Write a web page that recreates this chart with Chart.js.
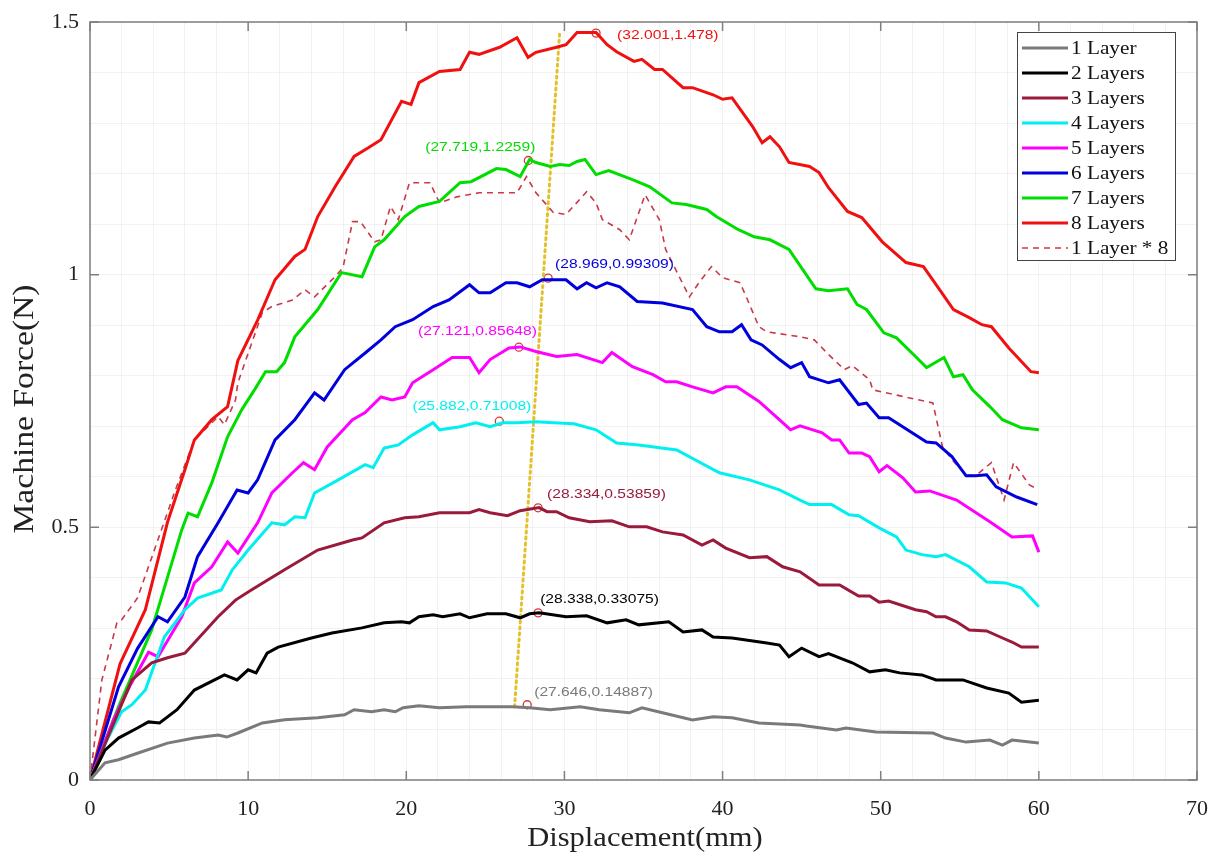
<!DOCTYPE html>
<html>
<head>
<meta charset="utf-8">
<script src="https://cdn.jsdelivr.net/npm/chart.js@4.4.1/dist/chart.umd.min.js"></script>
<style>
  body { margin: 0; background: #fff; }
  canvas { display: block; }
</style>
</head>
<body>
<canvas id="forceChart" width="1213" height="855"></canvas>
<script>
// displacement (mm), force (N) pairs
const layer1 = [[0,0],[0.95,0.034],[1.8,0.04],[3.0,0.053],[4.9,0.073],[6.6,0.083],[8.1,0.089],[8.65,0.085],[9.35,0.093],[10.9,0.113],[12.3,0.119],[14.4,0.123],[16.1,0.129],[16.7,0.139],[17.8,0.135],[18.6,0.139],[19.3,0.135],[19.8,0.143],[20.8,0.147],[22.1,0.143],[23.8,0.145],[26.7,0.145],[27.8,0.143],[29.1,0.139],[31.0,0.145],[32.2,0.139],[34.1,0.133],[34.9,0.143],[36.2,0.133],[38.1,0.119],[39.4,0.125],[40.6,0.123],[42.3,0.113],[44.9,0.109],[45.3,0.107],[47.2,0.099],[47.8,0.103],[49.7,0.095],[53.3,0.093],[54.1,0.083],[55.4,0.075],[56.9,0.079],[57.7,0.069],[58.3,0.079],[60.0,0.073]];
const layer2 = [[0,0],[0.95,0.059],[1.8,0.083],[3.0,0.103],[3.7,0.115],[4.4,0.113],[5.5,0.139],[6.6,0.178],[8.5,0.208],[9.3,0.198],[10.0,0.218],[10.5,0.212],[11.2,0.251],[11.9,0.263],[14.0,0.281],[15.3,0.291],[17.2,0.301],[18.6,0.311],[19.7,0.313],[20.2,0.311],[20.8,0.323],[21.7,0.327],[22.3,0.323],[23.4,0.329],[24.0,0.321],[25.1,0.329],[26.3,0.329],[27.2,0.321],[27.8,0.329],[28.4,0.331],[30.1,0.323],[31.4,0.325],[32.7,0.311],[33.9,0.317],[34.7,0.307],[36.6,0.313],[37.5,0.293],[38.7,0.297],[39.4,0.283],[40.6,0.281],[42.8,0.271],[43.6,0.267],[44.2,0.244],[45.0,0.261],[46.1,0.244],[46.7,0.25],[48.2,0.232],[49.3,0.214],[50.3,0.218],[51.2,0.212],[52.6,0.208],[53.5,0.198],[55.2,0.198],[56.7,0.182],[58.1,0.172],[58.9,0.154],[60.0,0.158]];
const layer3 = [[0,0],[1.2,0.09],[2.65,0.198],[3.9,0.232],[4.9,0.242],[6.0,0.251],[8.1,0.323],[9.2,0.356],[10.2,0.376],[12.3,0.416],[14.4,0.455],[16.6,0.475],[17.2,0.479],[18.6,0.509],[19.9,0.519],[20.8,0.521],[22.1,0.529],[24.0,0.529],[24.6,0.535],[25.3,0.529],[26.4,0.523],[27.2,0.533],[28.4,0.539],[28.9,0.531],[29.5,0.531],[30.3,0.519],[31.6,0.511],[33.0,0.513],[34.1,0.501],[35.2,0.501],[36.2,0.491],[37.5,0.485],[38.7,0.465],[39.4,0.475],[40.2,0.459],[41.7,0.44],[42.8,0.442],[43.8,0.422],[44.9,0.412],[46.1,0.386],[47.4,0.386],[48.6,0.364],[49.3,0.364],[49.9,0.352],[50.5,0.354],[52.2,0.337],[52.9,0.333],[53.5,0.323],[54.1,0.323],[54.8,0.313],[55.6,0.297],[56.7,0.295],[57.7,0.281],[58.3,0.273],[58.9,0.263],[60.0,0.263]];
const layer4 = [[0,0],[1.0,0.075],[2.0,0.135],[2.65,0.149],[3.5,0.178],[4.7,0.283],[6.0,0.337],[6.8,0.36],[8.3,0.376],[9.0,0.416],[10.0,0.455],[11.5,0.509],[12.3,0.505],[12.95,0.521],[13.6,0.519],[14.2,0.568],[15.7,0.594],[17.4,0.624],[17.9,0.618],[18.6,0.657],[19.5,0.663],[20.4,0.683],[21.7,0.707],[22.1,0.693],[23.4,0.699],[24.4,0.707],[25.3,0.699],[26.1,0.707],[27.0,0.707],[28.2,0.709],[29.3,0.707],[30.6,0.705],[32.0,0.693],[33.3,0.667],[34.7,0.663],[37.1,0.653],[39.8,0.608],[41.7,0.594],[43.6,0.574],[44.9,0.554],[45.5,0.545],[46.9,0.545],[48.0,0.525],[48.6,0.523],[49.9,0.499],[51.0,0.481],[51.6,0.455],[52.6,0.446],[53.5,0.442],[54.1,0.446],[55.6,0.422],[56.7,0.392],[57.9,0.39],[58.9,0.38],[60.0,0.343]];
const layer5 = [[0,0],[1.5,0.12],[2.5,0.185],[3.7,0.253],[4.3,0.244],[5.8,0.323],[6.6,0.39],[7.7,0.422],[8.7,0.471],[9.35,0.449],[10.6,0.509],[11.5,0.568],[12.8,0.608],[13.5,0.628],[14.2,0.614],[15.0,0.659],[16.6,0.713],[17.4,0.727],[18.4,0.758],[19.1,0.752],[19.9,0.758],[20.4,0.786],[21.7,0.812],[22.9,0.836],[24.0,0.836],[24.6,0.806],[25.3,0.832],[26.5,0.855],[27.2,0.857],[28.2,0.848],[29.5,0.838],[30.8,0.842],[32.4,0.826],[33.0,0.846],[34.3,0.818],[35.6,0.802],[36.4,0.788],[37.1,0.788],[38.1,0.778],[39.4,0.766],[40.2,0.778],[40.9,0.778],[42.3,0.749],[43.8,0.707],[44.3,0.693],[44.9,0.701],[46.3,0.687],[46.9,0.673],[47.4,0.673],[48.0,0.647],[48.8,0.647],[49.3,0.64],[49.9,0.61],[50.4,0.622],[51.4,0.598],[52.2,0.57],[53.1,0.572],[54.8,0.554],[56.9,0.511],[58.3,0.481],[59.6,0.483],[60.0,0.451]];
const layer6 = [[0,0],[1.8,0.184],[3.0,0.26],[4.3,0.323],[4.9,0.313],[6.0,0.362],[6.8,0.442],[8.1,0.509],[9.3,0.574],[10.0,0.568],[10.6,0.594],[11.7,0.673],[12.95,0.713],[14.2,0.766],[14.8,0.752],[16.1,0.812],[17.4,0.845],[18.4,0.871],[19.3,0.897],[20.4,0.911],[21.7,0.937],[22.7,0.95],[24.0,0.98],[24.6,0.964],[25.3,0.964],[26.3,0.984],[27.0,0.984],[27.8,0.976],[28.6,0.99],[30.1,0.99],[30.8,0.972],[31.4,0.984],[32.0,0.974],[32.7,0.984],[33.5,0.976],[34.6,0.947],[36.2,0.944],[38.1,0.931],[39.0,0.897],[39.8,0.887],[40.6,0.887],[41.2,0.901],[41.8,0.871],[42.5,0.861],[43.6,0.832],[44.3,0.816],[45.0,0.826],[45.5,0.798],[46.7,0.786],[47.4,0.792],[48.6,0.743],[49.1,0.746],[49.9,0.717],[50.5,0.717],[52.9,0.669],[53.5,0.667],[54.5,0.64],[55.4,0.602],[56.0,0.602],[56.7,0.604],[57.3,0.58],[58.6,0.56],[59.9,0.545]];
const layer7 = [[0,0],[1.8,0.145],[3.9,0.297],[5.8,0.495],[6.2,0.528],[6.8,0.521],[7.7,0.588],[8.7,0.679],[9.6,0.733],[10.4,0.772],[11.1,0.808],[11.8,0.808],[12.3,0.826],[12.95,0.877],[14.4,0.931],[15.9,1.004],[17.2,0.996],[18.0,1.055],[18.6,1.069],[19.9,1.115],[20.8,1.135],[22.1,1.145],[23.4,1.182],[24.1,1.184],[25.7,1.21],[26.3,1.208],[27.2,1.194],[27.8,1.228],[28.2,1.222],[29.1,1.214],[29.7,1.218],[30.3,1.216],[30.8,1.224],[31.3,1.228],[32.0,1.198],[32.8,1.206],[34.3,1.188],[35.4,1.174],[36.8,1.142],[37.7,1.139],[39.0,1.129],[39.6,1.115],[41.0,1.089],[42.0,1.075],[43.0,1.069],[44.2,1.05],[45.9,0.972],[46.7,0.968],[47.9,0.972],[48.5,0.941],[49.1,0.931],[50.2,0.885],[51.0,0.875],[52.2,0.838],[52.9,0.816],[54.0,0.836],[54.6,0.798],[55.2,0.802],[55.8,0.772],[56.9,0.739],[57.7,0.713],[58.9,0.697],[60.0,0.693]];
const layer8 = [[0,0],[1.9,0.23],[3.5,0.337],[4.9,0.51],[6.0,0.614],[6.6,0.673],[7.7,0.713],[8.7,0.739],[9.35,0.83],[10.6,0.91],[11.7,0.99],[12.95,1.036],[13.6,1.05],[14.4,1.115],[15.5,1.174],[16.7,1.234],[17.6,1.251],[18.4,1.267],[19.7,1.343],[20.3,1.337],[20.8,1.38],[22.1,1.402],[23.4,1.406],[24.0,1.44],[24.6,1.436],[25.9,1.45],[27.0,1.469],[27.7,1.43],[28.2,1.44],[29.5,1.45],[30.1,1.455],[30.8,1.479],[32.0,1.479],[32.7,1.455],[33.3,1.441],[34.4,1.422],[34.9,1.426],[35.7,1.406],[36.2,1.406],[37.5,1.37],[38.1,1.37],[39.4,1.356],[40.0,1.347],[40.6,1.35],[41.9,1.293],[42.5,1.261],[43.0,1.273],[43.6,1.253],[44.2,1.222],[45.5,1.214],[46.1,1.202],[46.7,1.172],[47.9,1.125],[48.8,1.113],[50.1,1.065],[51.6,1.024],[52.7,1.016],[53.6,0.976],[54.6,0.931],[55.6,0.915],[56.4,0.901],[57.0,0.897],[58.1,0.855],[59.5,0.808],[60.0,0.806]];
const layer1x8 = [[0,0],[0.75,0.198],[1.7,0.311],[2.0,0.317],[3.0,0.36],[3.9,0.44],[5.4,0.574],[6.6,0.673],[8.1,0.719],[8.5,0.703],[9.2,0.752],[9.35,0.786],[10.9,0.925],[11.5,0.937],[12.8,0.95],[13.6,0.97],[14.2,0.956],[15.5,0.996],[16.0,1.014],[16.6,1.105],[17.1,1.105],[18.0,1.065],[18.4,1.069],[19.0,1.135],[19.5,1.109],[20.2,1.182],[21.5,1.182],[22.1,1.142],[23.2,1.154],[24.6,1.162],[25.9,1.162],[27.0,1.162],[27.6,1.194],[28.2,1.162],[29.3,1.123],[30.1,1.119],[31.4,1.164],[32.0,1.142],[32.4,1.109],[33.5,1.089],[34.1,1.069],[35.1,1.158],[36.0,1.109],[36.4,1.05],[37.9,0.956],[38.5,0.984],[39.3,1.016],[40.0,0.994],[41.1,0.984],[41.5,0.956],[42.3,0.897],[42.8,0.887],[44.9,0.877],[45.8,0.871],[46.7,0.842],[47.7,0.812],[48.2,0.82],[49.3,0.792],[49.5,0.772],[53.3,0.746],[53.9,0.66],[54.5,0.634],[55.4,0.604],[56.0,0.602],[57.0,0.628],[57.8,0.554],[58.4,0.628],[59.4,0.584],[59.9,0.576]];

const seriesNames = ['1 Layer', '2 Layers', '3 Layers', '4 Layers', '5 Layers', '6 Layers', '7 Layers', '8 Layers', '1 Layer * 8'];
const seriesData = [layer1, layer2, layer3, layer4, layer5, layer6, layer7, layer8, layer1x8];
const seriesColors = ['#7a7a7a', '#000000', '#9a1a3c', '#00f0f0', '#ff00ff', '#0000dd', '#00dd00', '#f01010', '#c83a4a'];

// marked maximum of each curve
const peakX = [27.646, 28.338, 28.334, 25.882, 27.121, 28.969, 27.719, 32.001];
const peakY = [0.14887, 0.33075, 0.53859, 0.71008, 0.85648, 0.99309, 1.2259, 1.478];
// yellow dotted trend line through the peaks
const trendLine = [[26.85, 0.145], [29.7, 1.48]];

const xTicks = [0, 10, 20, 30, 40, 50, 60, 70];
const yTicks = [0, 0.5, 1, 1.5];

const toXY = arr => arr.map(p => ({ x: p[0], y: p[1] }));

const datasets = seriesData.map((d, i) => ({
    label: seriesNames[i],
    data: toXY(d),
    borderColor: seriesColors[i],
    borderWidth: i === 8 ? 1.6 : 3,
    borderDash: i === 8 ? [6, 5] : [],
    showLine: true,
    pointRadius: 0,
    tension: 0
}));
datasets.push({
    label: 'trend',
    data: toXY(trendLine),
    borderColor: '#e2c12a',
    borderWidth: 3,
    borderDash: [2, 4],
    borderCapStyle: 'round',
    showLine: true,
    pointRadius: 0
});
datasets.push({
    label: 'peaks',
    data: peakX.map((x, i) => ({ x: x, y: peakY[i] })),
    showLine: false,
    pointRadius: 4,
    pointBorderWidth: 1.3,
    pointBorderColor: '#d03a3a',
    pointBackgroundColor: 'rgba(0,0,0,0)'
});

const SERIF = '"Liberation Serif", "Times New Roman", serif';

function stretchText(ctx, s, x, y, align, sx) {
    ctx.save();
    ctx.translate(x, y);
    ctx.scale(sx, 1);
    ctx.textAlign = align;
    ctx.fillText(s, 0, 0);
    ctx.restore();
}

const frame = {
    id: 'frame',
    afterDatasetsDraw(chart) {
        const ctx = chart.ctx;
        const xs = chart.scales.x, ys = chart.scales.y;
        // label placement next to each marker: [align, dx, dy]
        const place = [['left', 7, -12], ['left', 2, -13], ['left', 9, -13], ['right', 32, -15],
                       ['right', 18, -16], ['left', 7, -14], ['right', 7, -13], ['left', 21, 2]];
        ctx.save();
        ctx.font = '13px "Liberation Sans", Arial, sans-serif';
        ctx.textBaseline = 'middle';
        peakX.forEach((x, i) => {
            const px = xs.getPixelForValue(x), py = ys.getPixelForValue(peakY[i]);
            ctx.fillStyle = seriesColors[i];
            const [al, dx, dy] = place[i];
            stretchText(ctx, '(' + x + ',' + peakY[i] + ')', px + dx, py + dy, al, 1.2);
        });
        ctx.restore();
    },
    afterDraw(chart) {
        const ctx = chart.ctx;
        const a = chart.chartArea;
        const xs = chart.scales.x, ys = chart.scales.y;
        ctx.save();
        ctx.strokeStyle = '#7f7f7f';
        ctx.lineWidth = 1.5;
        ctx.strokeRect(a.left, a.top, a.right - a.left, a.bottom - a.top);
        ctx.beginPath();
        xTicks.forEach(v => {
            const p = xs.getPixelForValue(v);
            ctx.moveTo(p, a.bottom); ctx.lineTo(p, a.bottom - 9);
            ctx.moveTo(p, a.top); ctx.lineTo(p, a.top + 9);
        });
        yTicks.forEach(v => {
            const p = ys.getPixelForValue(v);
            ctx.moveTo(a.left, p); ctx.lineTo(a.left + 9, p);
            ctx.moveTo(a.right, p); ctx.lineTo(a.right - 9, p);
        });
        ctx.stroke();

        // axis titles
        ctx.fillStyle = '#222';
        ctx.textBaseline = 'alphabetic';
        ctx.font = '27px ' + SERIF;
        stretchText(ctx, 'Displacement(mm)', 645, 846, 'center', 1.13);
        ctx.save();
        ctx.translate(33, 409);
        ctx.rotate(-Math.PI / 2);
        ctx.font = '30px ' + SERIF;
        stretchText(ctx, 'Machine Force(N)', 0, 0, 'center', 1.12);
        ctx.restore();

        // legend box
        const lx = 1017, ly = 32, lw = 158, lh = 228;
        ctx.fillStyle = '#fff';
        ctx.fillRect(lx, ly, lw, lh);
        ctx.strokeStyle = '#444';
        ctx.lineWidth = 1;
        ctx.strokeRect(lx + 0.5, ly + 0.5, lw, lh);
        ctx.font = '18px ' + SERIF;
        ctx.textBaseline = 'middle';
        seriesNames.forEach((name, i) => {
            const y = 48 + i * 25;
            ctx.strokeStyle = seriesColors[i];
            ctx.lineWidth = i === 8 ? 1.6 : 3;
            ctx.setLineDash(i === 8 ? [6, 5] : []);
            ctx.beginPath();
            ctx.moveTo(lx + 5, y); ctx.lineTo(lx + 51, y);
            ctx.stroke();
            ctx.setLineDash([]);
            ctx.fillStyle = '#111';
            stretchText(ctx, name, lx + 54, y + 1, 'left', 1.18);
        });
        ctx.restore();
    }
};

new Chart(document.getElementById('forceChart').getContext('2d'), {
    type: 'scatter',
    data: { datasets: datasets },
    plugins: [frame],
    options: {
        responsive: false,
        animation: false,
        devicePixelRatio: 1,
        layout: { padding: { left: 0, top: 22, right: 16, bottom: 0 } },
        plugins: {
            legend: { display: false },
            tooltip: { enabled: false }
        },
        scales: {
            x: {
                type: 'linear',
                min: 0,
                max: 70,
                afterFit: s => { s.height = 75; s.paddingRight = 0; s.paddingLeft = 0; },
                border: { display: false },
                grid: { color: 'rgba(0,0,0,0.05)', drawTicks: false },
                ticks: {
                    stepSize: 2,
                    autoSkip: false,
                    maxRotation: 0,
                    padding: 16,
                    color: '#222',
                    font: { family: SERIF, size: 22 },
                    callback: v => xTicks.includes(v) ? String(v) : ''
                }
            },
            y: {
                type: 'linear',
                min: 0,
                max: 1.5,
                afterFit: s => { s.width = 90; s.paddingTop = 0; s.paddingBottom = 0; },
                border: { display: false },
                grid: { color: 'rgba(0,0,0,0.05)', drawTicks: false },
                ticks: {
                    stepSize: 0.1,
                    autoSkip: false,
                    padding: 11,
                    color: '#222',
                    font: { family: SERIF, size: 22 },
                    callback: v => {
                        const r = Math.round(v * 10) / 10;
                        return yTicks.includes(r) ? String(r) : '';
                    }
                }
            }
        }
    }
});
</script>
</body>
</html>
